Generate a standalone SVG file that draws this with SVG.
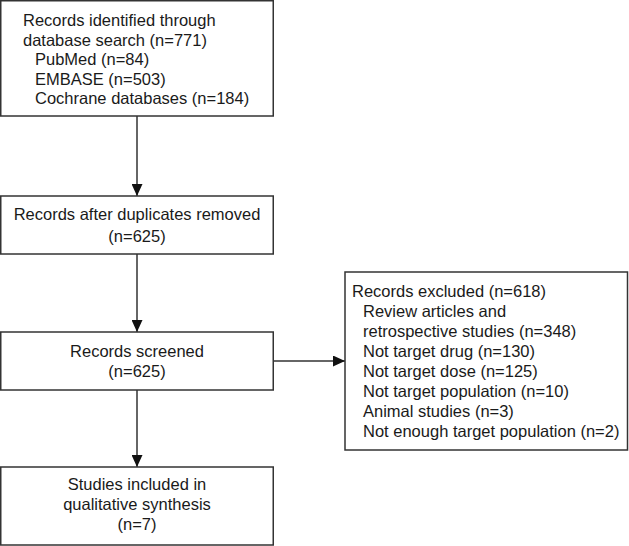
<svg xmlns="http://www.w3.org/2000/svg" width="629" height="546" viewBox="0 0 629 546">
<defs>
<style>
.box{fill:#fff;stroke:#333;stroke-width:1.5}
.t{font-family:"Liberation Sans",Arial,sans-serif;font-size:16.5px;fill:#1a1a1a}
.c{text-anchor:middle}
.ln{stroke:#333;stroke-width:1.5;fill:none}
</style>
<marker id="ah" viewBox="0 0 12 11" refX="12" refY="5.5" markerWidth="12" markerHeight="11" markerUnits="userSpaceOnUse" orient="auto">
<path d="M0,0 L12,5.5 L0,11 Z" fill="#111"/>
</marker>
</defs>
<rect width="629" height="546" fill="#fff"/>
<g id="connectors">
<line class="ln" x1="137" y1="116" x2="137" y2="196" marker-end="url(#ah)"/>
<line class="ln" x1="137" y1="254" x2="137" y2="332" marker-end="url(#ah)"/>
<line class="ln" x1="273" y1="361" x2="345" y2="361" marker-end="url(#ah)"/>
<line class="ln" x1="137" y1="390" x2="137" y2="467" marker-end="url(#ah)"/>
</g>
<g id="n1">
<rect class="box" x="0.75" y="0.75" width="272.5" height="115.25"/>
<text class="t" x="23" y="26">Records identified through</text>
<text class="t" x="23" y="45.5">database search (n=771)</text>
<text class="t" x="35" y="65">PubMed (n=84)</text>
<text class="t" x="35" y="84.5">EMBASE (n=503)</text>
<text class="t" x="35" y="104">Cochrane databases (n=184)</text>
</g>
<g id="n2">
<rect class="box" x="0.75" y="196" width="272.5" height="58"/>
<text class="t c" x="137" y="220">Records after duplicates removed</text>
<text class="t c" x="137" y="242">(n=625)</text>
</g>
<g id="n3">
<rect class="box" x="0.75" y="332" width="272.5" height="58"/>
<text class="t c" x="137" y="357">Records screened</text>
<text class="t c" x="137" y="377">(n=625)</text>
</g>
<g id="n4">
<rect class="box" x="345" y="272" width="282.5" height="178"/>
<text class="t" x="352" y="297">Records excluded (n=618)</text>
<text class="t" x="363" y="317">Review articles and</text>
<text class="t" x="363" y="337">retrospective studies (n=348)</text>
<text class="t" x="363" y="357">Not target drug (n=130)</text>
<text class="t" x="363" y="377">Not target dose (n=125)</text>
<text class="t" x="363" y="397">Not target population (n=10)</text>
<text class="t" x="363" y="417">Animal studies (n=3)</text>
<text class="t" x="363" y="437">Not enough target population (n=2)</text>
</g>
<g id="n5">
<rect class="box" x="0.75" y="467" width="272.5" height="78"/>
<text class="t c" x="137" y="490">Studies included in</text>
<text class="t c" x="137" y="510">qualitative synthesis</text>
<text class="t c" x="137" y="530">(n=7)</text>
</g>
</svg>
